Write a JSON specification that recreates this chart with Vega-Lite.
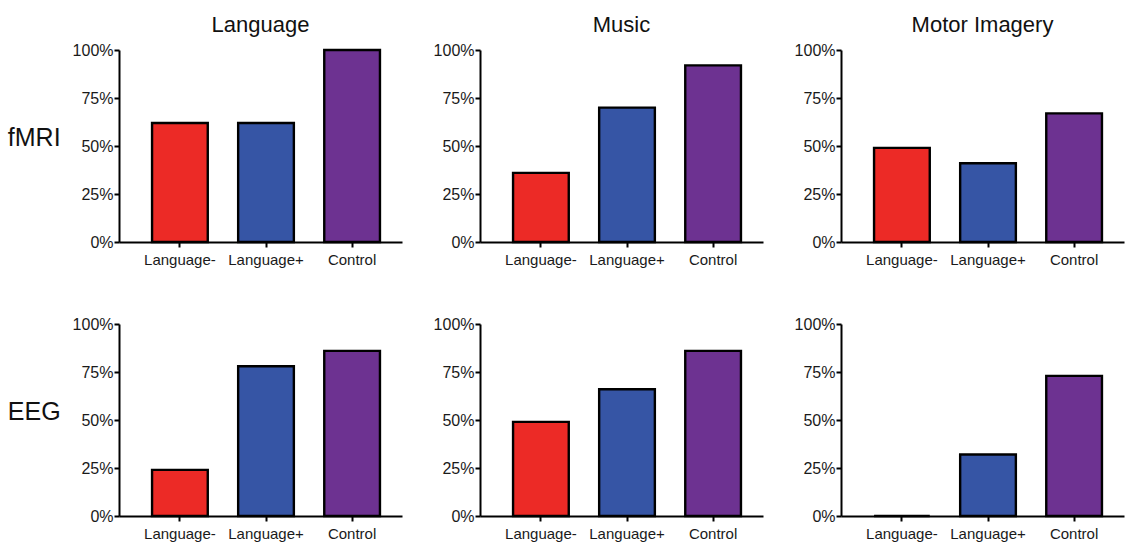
{
  "$schema": "https://vega.github.io/schema/vega-lite/v6.json",
  "background": "white",
  "padding": {"left": 7, "top": 14, "right": 2, "bottom": 4},
  "autosize": {"type": "pad"},
  "data": {
    "values": [
      {"method": "fMRI", "task": "Language", "group": "Language-", "share": 0.62},
      {"method": "fMRI", "task": "Language", "group": "Language+", "share": 0.62},
      {"method": "fMRI", "task": "Language", "group": "Control", "share": 1.0},
      {"method": "fMRI", "task": "Music", "group": "Language-", "share": 0.36},
      {"method": "fMRI", "task": "Music", "group": "Language+", "share": 0.70},
      {"method": "fMRI", "task": "Music", "group": "Control", "share": 0.92},
      {"method": "fMRI", "task": "Motor Imagery", "group": "Language-", "share": 0.49},
      {"method": "fMRI", "task": "Motor Imagery", "group": "Language+", "share": 0.41},
      {"method": "fMRI", "task": "Motor Imagery", "group": "Control", "share": 0.67},
      {"method": "EEG", "task": "Language", "group": "Language-", "share": 0.24},
      {"method": "EEG", "task": "Language", "group": "Language+", "share": 0.78},
      {"method": "EEG", "task": "Language", "group": "Control", "share": 0.86},
      {"method": "EEG", "task": "Music", "group": "Language-", "share": 0.49},
      {"method": "EEG", "task": "Music", "group": "Language+", "share": 0.66},
      {"method": "EEG", "task": "Music", "group": "Control", "share": 0.86},
      {"method": "EEG", "task": "Motor Imagery", "group": "Language-", "share": 0.0},
      {"method": "EEG", "task": "Motor Imagery", "group": "Language+", "share": 0.32},
      {"method": "EEG", "task": "Motor Imagery", "group": "Control", "share": 0.73}
    ]
  },
  "facet": {
    "row": {
      "field": "method",
      "type": "nominal",
      "sort": ["fMRI", "EEG"],
      "header": {
        "title": null,
        "labelAngle": 0,
        "labelOrient": "left",
        "labelAlign": "center",
        "labelBaseline": "alphabetic",
        "labelFont": "Liberation Sans",
        "labelFontSize": 25,
        "labelColor": "#111111",
        "labelPadding": 32
      }
    },
    "column": {
      "field": "task",
      "type": "nominal",
      "sort": ["Language", "Music", "Motor Imagery"],
      "header": {
        "title": null,
        "labelFont": "Liberation Sans",
        "labelFontSize": 22,
        "labelColor": "#111111",
        "labelPadding": 13
      }
    }
  },
  "spacing": {"row": 82, "column": 78},
  "bounds": "flush",
  "resolve": {"axis": {"x": "independent", "y": "independent"}},
  "spec": {
    "width": 283,
    "height": 192,
    "mark": {"type": "bar", "stroke": "#000000", "strokeWidth": 2.4},
    "encoding": {
      "x": {
        "field": "group",
        "type": "nominal",
        "sort": ["Language-", "Language+", "Control"],
        "scale": {"paddingInner": 0.353, "paddingOuter": 0.32, "align": 0.6},
        "axis": {
          "title": null,
          "labelAngle": 0,
          "labelFont": "Liberation Sans",
          "labelFontSize": 15,
          "labelColor": "#1a1a1a",
          "labelPadding": 5,
          "domainColor": "#000000",
          "domainWidth": 2,
          "tickColor": "#000000",
          "tickWidth": 2,
          "tickSize": 5
        }
      },
      "y": {
        "field": "share",
        "type": "quantitative",
        "scale": {"domain": [0, 1], "nice": false},
        "axis": {
          "title": null,
          "values": [0, 0.25, 0.5, 0.75, 1],
          "format": ".0%",
          "grid": false,
          "labelFont": "Liberation Sans",
          "labelFontSize": 16,
          "labelColor": "#1a1a1a",
          "labelPadding": 1,
          "domainColor": "#000000",
          "domainWidth": 2,
          "tickColor": "#000000",
          "tickWidth": 2,
          "tickSize": 5
        }
      },
      "color": {
        "field": "group",
        "type": "nominal",
        "scale": {
          "domain": ["Language-", "Language+", "Control"],
          "range": ["#ec2a26", "#3655a5", "#6d3291"]
        },
        "legend": null
      }
    }
  },
  "config": {
    "view": {"stroke": null},
    "font": "Liberation Sans"
  }
}
